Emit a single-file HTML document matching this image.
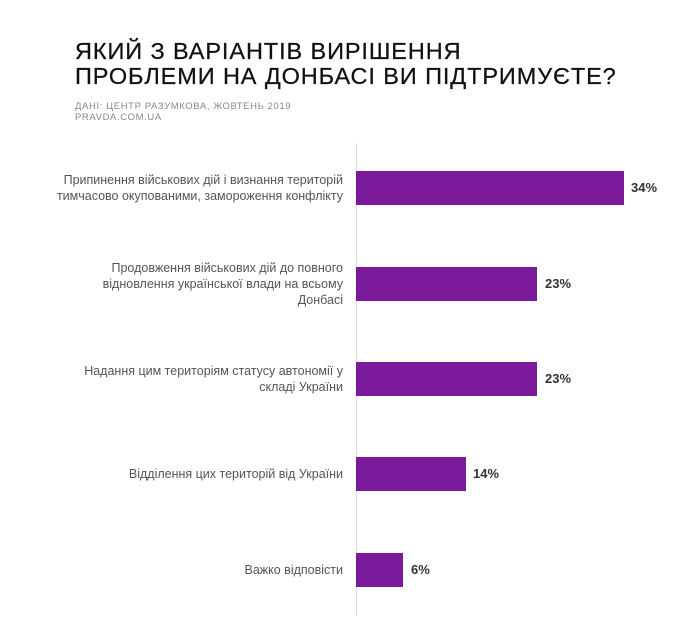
<!DOCTYPE html>
<html><head><meta charset="utf-8"><style>
body{margin:0;width:690px;height:626px;background:#fff;font-family:"Liberation Sans",sans-serif;position:relative;overflow:hidden}
.t{position:absolute;left:75px;top:39px;font-size:23.5px;line-height:25px;color:#111;letter-spacing:0.9px;-webkit-text-stroke:0.25px #111}
.s{position:absolute;left:75px;top:101px;font-size:9.5px;line-height:11px;color:#888;letter-spacing:0.6px}
.ax{position:absolute;left:356px;top:143px;width:1px;height:473px;background:#ddd}
.b{position:absolute;left:356px;height:34px;background:#7b1b9c}
.v{position:absolute;font-size:13px;font-weight:bold;color:#333;line-height:34px}
.l{position:absolute;right:347px;width:340px;text-align:right;font-size:12.5px;line-height:16px;color:#555;white-space:nowrap}
</style></head><body>
<div class="t">ЯКИЙ З ВАРІАНТІВ ВИРІШЕННЯ<br>ПРОБЛЕМИ НА ДОНБАСІ ВИ ПІДТРИМУЄТЕ?</div>
<div class="s">ДАНІ: ЦЕНТР РАЗУМКОВА, ЖОВТЕНЬ 2019<br>PRAVDA.COM.UA</div>
<div class="ax"></div>
<div class="b" style="top:171px;width:268px"></div><div class="v" style="top:171px;left:631px">34%</div>
<div class="b" style="top:267px;width:181px"></div><div class="v" style="top:267px;left:545px">23%</div>
<div class="b" style="top:362px;width:181px"></div><div class="v" style="top:362px;left:545px">23%</div>
<div class="b" style="top:457px;width:110px"></div><div class="v" style="top:457px;left:473px">14%</div>
<div class="b" style="top:553px;width:47px"></div><div class="v" style="top:553px;left:411px">6%</div>
<div class="l" style="top:172px">Припинення військових дій і визнання територій<br>тимчасово окупованими, замороження конфлікту</div>
<div class="l" style="top:260px">Продовження військових дій до повного<br>відновлення української влади на всьому<br>Донбасі</div>
<div class="l" style="top:363px">Надання цим територіям статусу автономії у<br>складі України</div>
<div class="l" style="top:466px">Відділення цих територій від України</div>
<div class="l" style="top:562px">Важко відповісти</div>
</body></html>
